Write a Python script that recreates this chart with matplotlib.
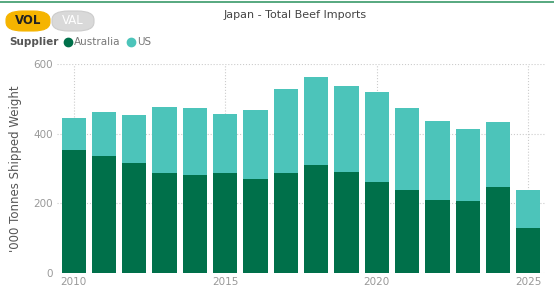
import matplotlib.pyplot as plt
from matplotlib.patches import FancyBboxPatch

years = list(range(2010, 2026))
total = [444, 461, 453, 476, 473, 456, 467, 528, 562, 537, 519, 473, 436, 412, 433, 239]
australia = [352, 337, 317, 286, 280, 288, 271, 286, 311, 291, 260, 237, 211, 208, 248, 130]
us = [t - a for t, a in zip(total, australia)]

aus_color = '#00704A'
us_color = '#4CC4BA'

fig = plt.figure(figsize=(5.54, 2.95), dpi=100)
ax = fig.add_axes([57 / 554, 1 - 273 / 295, 488 / 554, 209 / 295])

ax.bar(years, australia, width=0.8, color=aus_color, zorder=2)
ax.bar(years, us, width=0.8, bottom=australia, color=us_color, zorder=2)

ax.set_xlim(2009.45, 2025.55)
ax.set_ylim(0, 600)
ax.set_yticks([0, 200, 400, 600])
ax.set_xticks([2010, 2015, 2020, 2025])
ax.tick_params(length=0, labelsize=7.5, colors='#999999', pad=3)
ax.grid(True, linestyle=':', color='#cccccc', linewidth=0.8, zorder=0)
for s in ax.spines.values():
    s.set_visible(False)
ax.set_ylabel("'000 Tonnes Shipped Weight", fontsize=8.5, color='#555555', labelpad=8)

# top green rule
fig.add_artist(plt.Line2D([0, 1], [1 - 2 / 295, 1 - 2 / 295], color='#3a9a6a', lw=1.2))

fig.text(295 / 554, 1 - 15 / 295, 'Japan - Total Beef Imports', ha='center', va='center',
         fontsize=8, color='#444444')

# VOL / VAL toggle
fig.add_artist(FancyBboxPatch((52 / 554, 1 - 31 / 295), 42 / 554, 20 / 295,
                              boxstyle='round,pad=0,rounding_size=0.03',
                              transform=fig.transFigure, fc='#d9d9d9', ec='#cccccc', lw=0.8))
fig.add_artist(FancyBboxPatch((6 / 554, 1 - 31 / 295), 44 / 554, 20 / 295,
                              boxstyle='round,pad=0,rounding_size=0.03',
                              transform=fig.transFigure, fc='#F5B400', ec='#F5B400', lw=0.8))
fig.text(28 / 554, 1 - 21 / 295, 'VOL', ha='center', va='center', fontsize=8.5,
         fontweight='bold', color='#222222')
fig.text(73 / 554, 1 - 21 / 295, 'VAL', ha='center', va='center', fontsize=8.5,
         color='#ffffff')

# legend
fig.text(9 / 554, 1 - 42 / 295, 'Supplier', ha='left', va='center', fontsize=7.5,
         fontweight='bold', color='#555555')
fig.add_artist(plt.Line2D([68 / 554], [1 - 42 / 295], marker='o', markersize=6,
                          color=aus_color, transform=fig.transFigure))
fig.text(74 / 554, 1 - 42 / 295, 'Australia', ha='left', va='center', fontsize=7.5,
         color='#777777')
fig.add_artist(plt.Line2D([131 / 554], [1 - 42 / 295], marker='o', markersize=6,
                          color=us_color, transform=fig.transFigure))
fig.text(137 / 554, 1 - 42 / 295, 'US', ha='left', va='center', fontsize=7.5,
         color='#777777')

plt.savefig('out.png', dpi=100)
